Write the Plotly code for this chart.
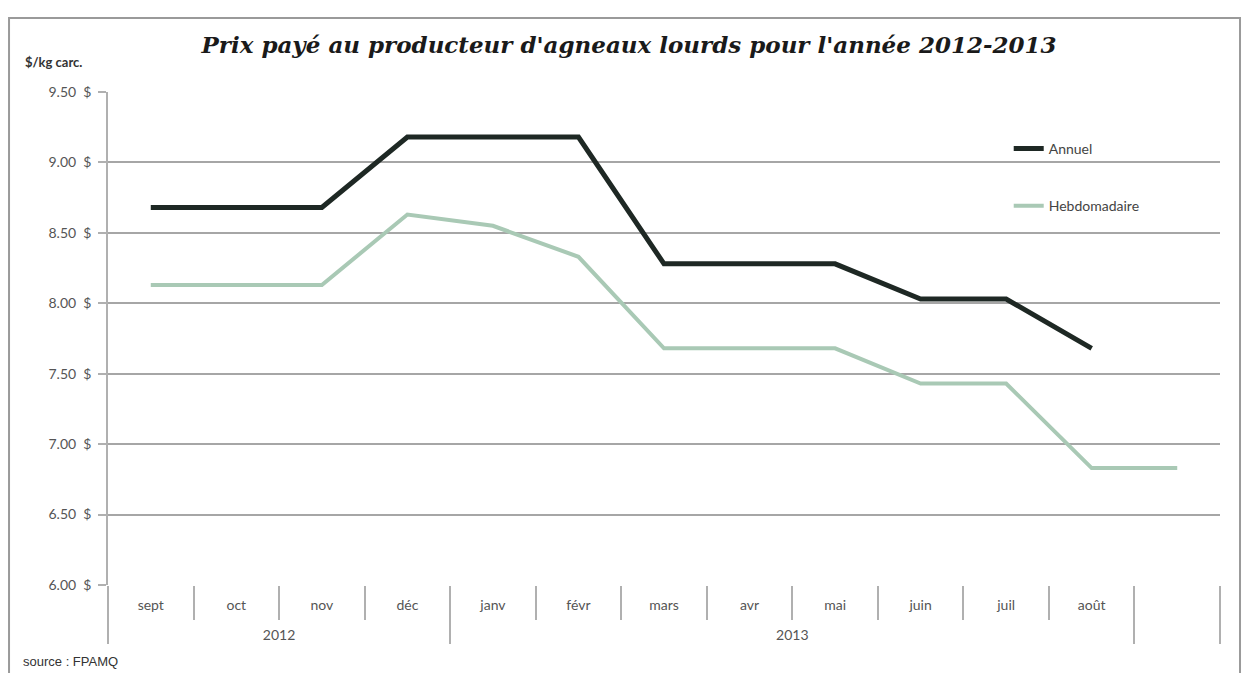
import plotly.graph_objects as go

years = ["2012"] * 4 + ["2013"] * 8 + [" "]
months = ["sept", "oct", "nov", "déc", "janv", "févr", "mars", "avr", "mai", "juin", "juil", "août", " "]
annuel = [8.68, 8.68, 8.68, 9.18, 9.18, 9.18, 8.28, 8.28, 8.28, 8.03, 8.03, 7.68, None]
hebdo = [8.13, 8.13, 8.13, 8.63, 8.55, 8.33, 7.68, 7.68, 7.68, 7.43, 7.43, 6.83, 6.83]
y_ticks = [6.0, 6.5, 7.0, 7.5, 8.0, 8.5, 9.0, 9.5]

# two-line month labels (second line blank) leave room for the year row
month_labels = [m + "<br><span style='font-size:28px'>\u00a0</span>" for m in months]

fig = go.Figure()
fig.add_trace(go.Scatter(
    x=[years, month_labels], y=annuel, mode="lines", name="Annuel",
    line=dict(color="#1e2824", width=5), legendgroup="a",
    connectgaps=False,
))
fig.add_trace(go.Scatter(
    x=[years, month_labels], y=hebdo, mode="lines", name="Hebdomadaire",
    line=dict(color="#a9c9b5", width=4), legendgroup="h",
))

fig.update_layout(
    width=1242, height=665,
    paper_bgcolor="white", plot_bgcolor="white",
    margin=dict(l=100, r=30, t=84, b=88, autoexpand=False),
    title=dict(
        text="Prix payé au producteur d'agneaux lourds pour l'année 2012-2013",
        x=0.5, xanchor="center", y=0.944, yref="container", yanchor="middle",
        font=dict(family="DejaVu Serif, serif", size=23, color="#1a1a1a", style="italic", weight="bold"),
    ),
    showlegend=True,
    legend=dict(
        x=0.81, y=0.917, xanchor="left", yanchor="top",
        bgcolor="rgba(0,0,0,0)", font=dict(family="Lato, Open Sans, sans-serif", size=14, color="#444444"),
        tracegroupgap=36, traceorder="grouped",
    ),
    xaxis=dict(
        type="multicategory",
        range=[-0.5, 12.5],
        showgrid=False,
        showline=False,
        ticks="outside", tickson="boundaries", ticklen=34, tickcolor="#b0b0b0", tickwidth=1.5,
        showdividers=True, dividercolor="#b0b0b0", dividerwidth=1.5,
        tickfont=dict(family="Lato, Open Sans, sans-serif", size=14, color="#555555"),
        ticklabelstandoff=10,
        zeroline=False,
    ),
    yaxis=dict(
        range=[6.0, 9.5], tickvals=y_ticks,
        ticktext=[f"{v:.2f}\u00a0\u00a0$" for v in y_ticks],
        showgrid=True, gridcolor="#a6a6a6", gridwidth=1.5,
        showline=True, linecolor="#b0b0b0", linewidth=1.5,
        ticks="outside", ticklen=8, tickcolor="#b0b0b0", tickwidth=1.5,
        tickfont=dict(family="Lato, Open Sans, sans-serif", size=14, color="#555555"),
        ticklabelstandoff=4,
        zeroline=False,
    ),
    annotations=[
        dict(text="<b>$/kg carc.</b>", xref="paper", yref="paper", x=-0.076, y=1.06,
             xanchor="left", yanchor="middle", showarrow=False,
             font=dict(family="Lato, sans-serif", size=13, color="#333333")),
        dict(text="source : FPAMQ", xref="paper", yref="paper", x=-0.078, y=-0.155,
             xanchor="left", yanchor="middle", showarrow=False,
             font=dict(family="Liberation Sans, Arial, sans-serif", size=13, color="#333333")),
    ],
    shapes=[
        dict(type="rect", xref="paper", yref="paper", x0=-0.089, x1=1.018, y0=-0.25, y1=1.150,
             line=dict(color="#9a9a9a", width=2), fillcolor="rgba(0,0,0,0)", layer="below"),
    ],
)

fig.write_html("out.html")
